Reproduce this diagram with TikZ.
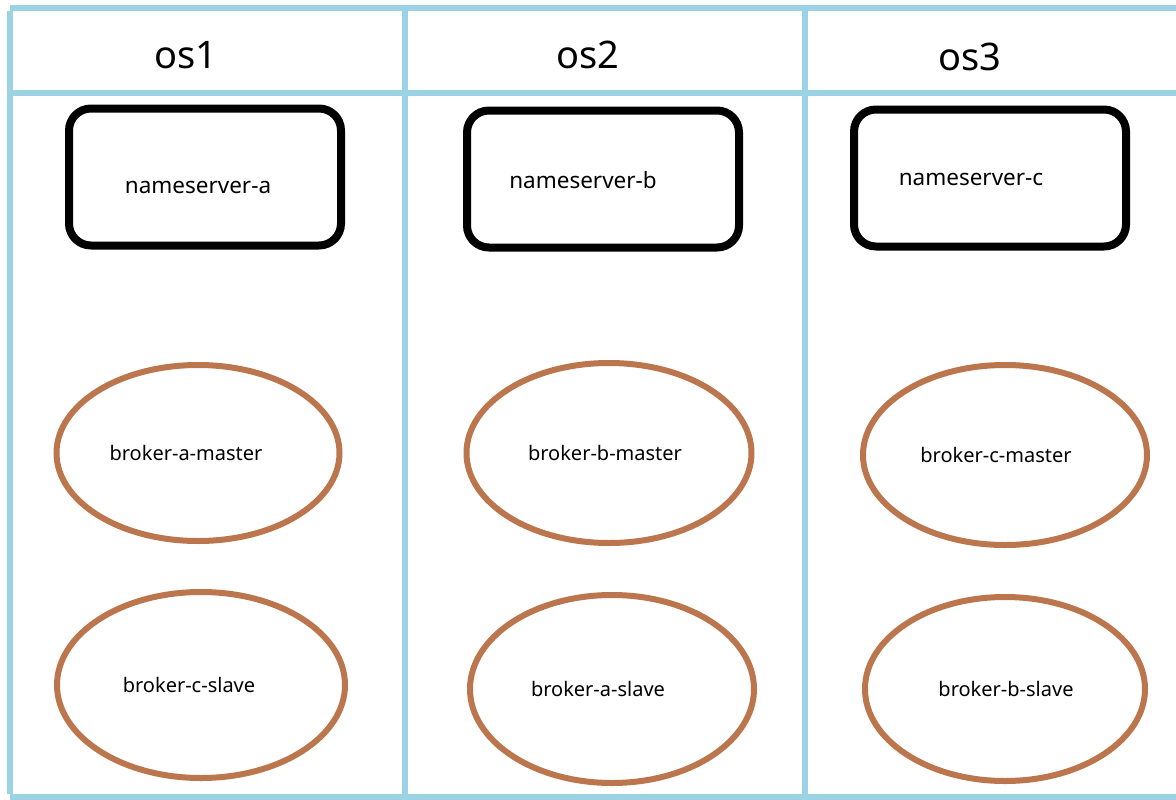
\documentclass[tikz,border=0pt]{standalone}
\usepackage{fontspec}
\setmainfont{Noto Sans}
\usetikzlibrary{shapes.geometric}
\definecolor{frameblue}{RGB}{155,210,228}
\definecolor{brokerbrown}{RGB}{188,118,78}
\tikzset{
  frameline/.style={draw=frameblue,line width=6pt},
  nsbox/.style={draw=black,line width=8pt,rounded corners=22pt,minimum width=272pt,minimum height=137pt,font=\fontsize{22.5}{26}\selectfont},
  brokerell/.style={ellipse,draw=brokerbrown,line width=6pt,font=\fontsize{20}{24}\selectfont},
  oslabel/.style={font=\fontsize{38}{44}\selectfont}
}
\begin{document}
\begin{tikzpicture}[x=1pt,y=-1pt]
\useasboundingbox (0,0) rectangle (1176,800);
\fill[white] (0,0) rectangle (1176,800);
% frame
\coordinate (tl) at (10,8);
\coordinate (tr) at (1176,8);
\coordinate (bl) at (10,797);
\coordinate (br) at (1176,797);
\coordinate (hl) at (10,93);
\coordinate (hr) at (1176,93);
\coordinate (d1t) at (405,8);
\coordinate (d1b) at (405,797);
\coordinate (d2t) at (805,8);
\coordinate (d2b) at (805,797);
\draw[frameline] (tl) -- (tr);
\draw[frameline] (bl) -- (br);
\draw[frameline] (hl) -- (hr);
\draw[frameline] ([yshift=-3pt]tl) -- ([yshift=3pt]bl);
\draw[frameline] ([yshift=-3pt]d1t) -- ([yshift=3pt]d1b);
\draw[frameline] ([yshift=-3pt]d2t) -- ([yshift=3pt]d2b);
% headers
\node[oslabel] (os1) at (186,55) {os1};
\node[oslabel] (os2) at (588,55) {os2};
\node[oslabel] (os3) at (970,57) {os3};
% nameservers
\node[nsbox] (nsa) at (205,177) {\hspace*{-14pt}\raisebox{-16pt}[0pt][0pt]{nameserver-a}};
\node[nsbox] (nsb) at (603,179) {\hspace*{-40pt}\raisebox{-9pt}[0pt][0pt]{nameserver-b}};
\node[nsbox] (nsc) at (990,178) {\hspace*{-38pt}\raisebox{-7pt}[0pt][0pt]{nameserver-c}};
% brokers
\node[brokerell,minimum width=283pt,minimum height=176pt] (bam) at (198,453) {\hspace*{-24pt}broker-a-master};
\node[brokerell,minimum width=285pt,minimum height=180pt] (bbm) at (609,453) {\hspace*{-8pt}broker-b-master};
\node[brokerell,minimum width=284pt,minimum height=180pt] (bcm) at (1005,455) {\hspace*{-18pt}broker-c-master};
\node[brokerell,minimum width=288pt,minimum height=186pt] (bcs) at (201,685) {\hspace*{-24pt}broker-c-slave};
\node[brokerell,minimum width=284pt,minimum height=188pt] (bas) at (612,689) {\hspace*{-28pt}broker-a-slave};
\node[brokerell,minimum width=280pt,minimum height=184pt] (bbs) at (1005,689) {\hspace*{2pt}broker-b-slave};
\end{tikzpicture}
\end{document}
